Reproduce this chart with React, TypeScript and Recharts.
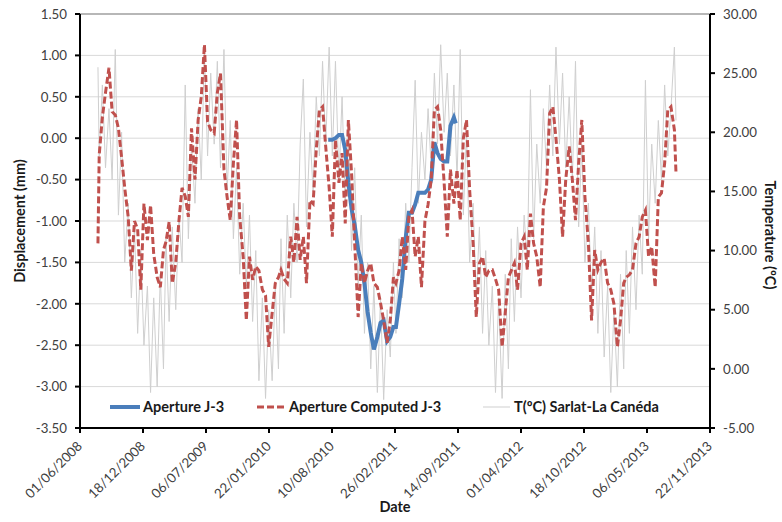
import React from "react";
import { ComposedChart, Line, XAxis, YAxis, CartesianGrid, ReferenceLine, Label } from "recharts";

// sampling dates shared by the computed aperture and the temperature record
const dates = [
  "2008-07-28",
  "2008-08-01", "2008-08-11", "2008-08-21", "2008-09-01", "2008-09-11", "2008-09-21",
  "2008-10-01", "2008-10-11", "2008-10-21", "2008-11-01", "2008-11-11", "2008-11-21",
  "2008-12-01", "2008-12-11", "2008-12-21",
  "2009-01-01", "2009-01-11", "2009-01-21", "2009-02-01", "2009-02-11", "2009-02-21",
  "2009-03-01", "2009-03-11", "2009-03-21", "2009-04-01", "2009-04-11", "2009-04-21",
  "2009-05-01", "2009-05-11", "2009-05-21", "2009-06-01", "2009-06-11", "2009-06-21",
  "2009-07-01", "2009-07-11", "2009-07-21", "2009-08-01", "2009-08-11", "2009-08-21",
  "2009-09-01", "2009-09-11", "2009-09-21", "2009-10-01", "2009-10-11", "2009-10-21",
  "2009-11-01", "2009-11-11", "2009-11-21", "2009-12-01", "2009-12-11", "2009-12-21",
  "2010-01-01", "2010-01-11", "2010-01-21", "2010-02-01", "2010-02-11", "2010-02-21",
  "2010-03-01", "2010-03-11", "2010-03-21", "2010-04-01", "2010-04-11", "2010-04-21",
  "2010-05-01", "2010-05-11", "2010-05-21", "2010-06-01", "2010-06-11", "2010-06-21",
  "2010-07-01", "2010-07-11", "2010-07-21", "2010-08-01", "2010-08-11", "2010-08-21",
  "2010-09-01", "2010-09-11", "2010-09-21", "2010-10-01", "2010-10-11", "2010-10-21",
  "2010-11-01", "2010-11-11", "2010-11-21", "2010-12-01", "2010-12-11", "2010-12-21",
  "2011-01-01", "2011-01-11", "2011-01-21", "2011-02-01", "2011-02-11", "2011-02-21",
  "2011-03-01", "2011-03-11", "2011-03-21", "2011-04-01", "2011-04-11", "2011-04-21",
  "2011-05-01", "2011-05-11", "2011-05-21", "2011-06-01", "2011-06-11", "2011-06-21",
  "2011-07-01", "2011-07-11", "2011-07-21", "2011-08-01", "2011-08-11", "2011-08-21",
  "2011-09-01", "2011-09-11", "2011-09-21", "2011-10-01", "2011-10-11", "2011-10-21",
  "2011-11-01", "2011-11-11", "2011-11-21", "2011-12-01", "2011-12-11", "2011-12-21",
  "2012-01-01", "2012-01-11", "2012-01-21", "2012-02-01", "2012-02-11", "2012-02-21",
  "2012-03-01", "2012-03-11", "2012-03-21", "2012-04-01", "2012-04-11", "2012-04-21",
  "2012-05-01", "2012-05-11", "2012-05-21", "2012-06-01", "2012-06-11", "2012-06-21",
  "2012-07-01", "2012-07-11", "2012-07-21", "2012-08-01", "2012-08-11", "2012-08-21",
  "2012-09-01", "2012-09-11", "2012-09-21", "2012-10-01", "2012-10-11", "2012-10-21",
  "2012-11-01", "2012-11-11", "2012-11-21", "2012-12-01", "2012-12-11", "2012-12-21",
  "2013-01-01", "2013-01-11", "2013-01-21", "2013-02-01", "2013-02-11", "2013-02-21",
  "2013-03-01", "2013-03-11", "2013-03-21", "2013-04-01", "2013-04-11", "2013-04-21",
  "2013-05-01", "2013-05-11", "2013-05-21", "2013-06-01", "2013-06-11", "2013-06-21",
  "2013-07-01", "2013-07-11", "2013-07-21", "2013-08-01", "2013-08-06",
];

// Aperture Computed J-3 (mm)
const computedJ3 = [
  -1.27,
  -0.2, 0.25, 0.55, 0.85, 0.32, 0.28,
  0.12, -0.23, -0.6, -0.95, -1.6, -1.0,
  -1.1, -1.83, -0.79,
  -1.23, -0.81, -1.4, -1.68, -1.8, -1.35,
  -1.25, -1.01, -1.75, -1.5, -1.0, -0.6,
  -0.7, -0.95, 0.12, -0.5, 0.22, 0.5,
  1.13, 0.2, 0.1, 0.06, 0.55, 0.78,
  -0.38, -0.71, -0.99, -0.3, 0.22, -0.95,
  -1.43, -2.2, -1.43, -1.71, -1.55, -1.6,
  -1.83, -1.9, -2.52, -2.11, -1.75, -1.68,
  -1.59, -1.7, -1.75, -1.19, -1.5, -0.95,
  -1.47, -1.19, -1.75, -0.75, -0.79, -0.14,
  0.34, 0.38, -0.1, -0.6, -1.19, -0.02,
  -0.54, -0.18, -1.03, 0.22, -0.42, -1.27,
  -2.16, -1.51, -1.75, -1.6, -1.51, -1.75,
  -1.8, -1.99, -2.2, -2.47, -2.2, -1.68,
  -1.75, -1.6, -1.19, -1.59, -0.95, -0.87,
  -1.43, -1.19, -1.8, -1.0, -0.8, -0.5,
  0.34, 0.38, 0.1, -0.54, -1.19, -0.38,
  -0.79, -0.38, -0.99, 0.0, 0.22, -0.63,
  -1.27, -2.16, -1.51, -1.43, -1.68, -1.6,
  -1.59, -1.7, -1.83, -2.52, -2.11, -1.68,
  -1.6, -1.51, -1.83, -1.27, -1.19, -1.59,
  -0.91, -1.27, -1.43, -1.8, -0.83, -0.6,
  0.3, 0.38, 0.0, -0.5, -1.19, -0.5,
  -0.1, -0.5, -0.99, -0.3, 0.22, -0.71,
  -1.27, -2.2, -1.35, -1.59, -1.5, -1.45,
  -1.75, -1.83, -2.0, -2.52, -2.2, -1.75,
  -1.68, -1.65, -1.59, -1.27, -1.19, -0.95,
  -0.87, -1.43, -1.31, -1.8, -0.71, -0.66,
  -0.3, 0.34, 0.38, 0.1, -0.42,
];

// T(ºC) Sarlat-La Canéda
const tempSarlat = [
  25.5,
  18, 24, 17, 22, 16, 27,
  13, 20, 9, 14, 6, 12,
  3, 10, 2,
  7, -2, 6, -1.5, 8, 0,
  11, 4, 12, 5, 13, 9,
  24, 11, 19, 14, 22, 16,
  27, 18, 25, 19, 26, 17,
  27, 15, 21, 11, 17, 8,
  14, 7, 13, 4, 10, -1,
  6, -2.5, 5, -1, 7, 0,
  11, 3, 13, 6, 14, 9,
  19, 24.5, 12, 20, 15, 23,
  18, 26, 19, 27.2, 18, 26,
  16, 23, 14, 21, 10, 17,
  7, 13, 3, 9, 0, 7,
  -2, 6, -2.6, 5, 1, 9,
  3, 11, 6, 14, 9, 17,
  24.4, 14, 20, 16, 22, 17,
  25, 19, 27.4, 20, 25, 18,
  24, 16, 27, 13, 20, 9,
  14, 6, 12, 3, 10, 2,
  7, -2, 6, -2.5, 8, 0,
  11, 4, 12, 6, 13, 9,
  23.6, 11, 19, 14, 22, 17,
  24, 18, 27.2, 19, 25, 17,
  23, 16, 26, 12, 19, 9,
  14, 6, 12, 3, 10, 1,
  7, -2, 5, -1.5, 8, 0,
  10, 3, 12, 5, 13, 8,
  24.4, 11, 19, 14, 21, 16,
  24, 18, 22, 27.2, 21,
];

// Aperture J-3 (mm), measured
const j3Dates = [
  "2010-07-29",
  "2010-08-01", "2010-08-11", "2010-08-21", "2010-09-01", "2010-09-11", "2010-09-21",
  "2010-10-01", "2010-10-11", "2010-10-21", "2010-11-01", "2010-11-11", "2010-11-21",
  "2010-12-01", "2010-12-11", "2010-12-21",
  "2011-01-01", "2011-01-11", "2011-01-21", "2011-02-01", "2011-02-11", "2011-02-21",
  "2011-03-01", "2011-03-11", "2011-03-21", "2011-04-01", "2011-04-11", "2011-04-21",
  "2011-05-01", "2011-05-11", "2011-05-21", "2011-06-01", "2011-06-11", "2011-06-21",
  "2011-07-01", "2011-07-11", "2011-07-21", "2011-08-01", "2011-08-11", "2011-08-21",
  "2011-09-01", "2011-09-07",
];
const j3Values = [
  -0.02,
  -0.02, -0.02, 0.0, 0.04, 0.04, -0.14,
  -0.54, -0.85, -1.05, -1.35, -1.5, -1.75,
  -2.1, -2.35, -2.55,
  -2.4, -2.23, -2.2, -2.45, -2.4, -2.28,
  -2.28, -2.0, -1.7, -1.2, -0.9, -0.9,
  -0.8, -0.66, -0.66, -0.66, -0.62, -0.5,
  -0.05, -0.18, -0.25, -0.28, -0.28, 0.15,
  0.25, 0.18,
];

const xTickDates = [
  "2008-06-01", "2008-12-18", "2009-07-06", "2010-01-22", "2010-08-10", "2011-02-26",
  "2011-09-14", "2012-04-01", "2012-10-18", "2013-05-06", "2013-11-22",
];
const displacementTicks = [-3.5, -3, -2.5, -2, -1.5, -1, -0.5, 0, 0.5, 1, 1.5];
const temperatureTicks = [-5, 0, 5, 10, 15, 20, 25, 30];

const FONT = "Lato, 'Carlito', Calibri, sans-serif";
const BLUE = "#4a7ebb";
const RED = "#c0504d";
const GREY = "#cfcfcf";

const toTime = (s: string) => Date.parse(s + "T00:00:00Z");
const pad = (n: number) => (n < 10 ? "0" + n : "" + n);
const formatDate = (t: number) => {
  const d = new Date(t);
  return `${pad(d.getUTCDate())}/${pad(d.getUTCMonth() + 1)}/${d.getUTCFullYear()}`;
};

type Row = { t: number; computed?: number | null; temp?: number | null; j3?: number | null };

function buildRows(): Row[] {
  const map = new Map<number, Row>();
  dates.forEach((s, i) => {
    const t = toTime(s);
    map.set(t, { t, computed: computedJ3[i], temp: tempSarlat[i], j3: null });
  });
  j3Dates.forEach((s, i) => {
    const t = toTime(s);
    const row = map.get(t) ?? { t, computed: null, temp: null };
    row.j3 = j3Values[i];
    map.set(t, row);
  });
  return Array.from(map.values()).sort((a, b) => a.t - b.t);
}

const rows = buildRows();
const xTicks = xTickDates.map(toTime);

function DateTick({ x, y, payload }: any) {
  const tx = x + 3;
  const ty = y + 14;
  return (
    <text
      x={tx}
      y={ty}
      textAnchor="end"
      fill="#404040"
      fontSize={13.3}
      fontFamily={FONT}
      transform={`rotate(-45 ${tx} ${ty})`}
    >
      {formatDate(payload.value)}
    </text>
  );
}

export default function App() {
  const tickStyle = { fill: "#404040", fontSize: 13.3, fontFamily: FONT };
  const axisStroke = { stroke: "#000", strokeWidth: 2 };

  return (
    <div style={{ position: "absolute", left: 0, top: 0, width: 782, height: 522, fontFamily: FONT }}>
      <ComposedChart width={782} height={522} data={rows} margin={{ top: 14, right: 0, bottom: 0, left: 0 }}>
        <CartesianGrid yAxisId="left" vertical={false} stroke="#d9d9d9" />
        <XAxis
          dataKey="t"
          type="number"
          domain={[xTicks[0], xTicks[xTicks.length - 1]]}
          ticks={xTicks}
          interval={0}
          height={94}
          tick={<DateTick />}
          tickSize={5}
          tickMargin={0}
          axisLine={axisStroke}
          tickLine={axisStroke}
        >
          <Label
            content={() => (
              <text x={395} y={512} textAnchor="middle" fontFamily={FONT} fontWeight={700} fontSize={14.5} fill="#1a1a1a">
                Date
              </text>
            )}
          />
        </XAxis>
        <YAxis
          yAxisId="left"
          domain={[-3.5, 1.5]}
          ticks={displacementTicks}
          interval={0}
          width={80}
          tickFormatter={(v: number) => v.toFixed(2)}
          tick={tickStyle}
          tickSize={5}
          tickMargin={8}
          axisLine={axisStroke}
          tickLine={axisStroke}
        >
          <Label
            content={() => (
              <text
                x={25}
                y={221}
                textAnchor="middle"
                fontFamily={FONT}
                fontWeight={700}
                fontSize={14.5}
                fill="#1a1a1a"
                transform="rotate(-90 25 221)"
              >
                Displacement (mm)
              </text>
            )}
          />
        </YAxis>
        <YAxis
          yAxisId="right"
          orientation="right"
          domain={[-5, 30]}
          ticks={temperatureTicks}
          interval={0}
          width={72}
          tickFormatter={(v: number) => v.toFixed(2)}
          tick={{ ...tickStyle, textAnchor: "start" }}
          tickSize={5}
          tickMargin={8}
          axisLine={axisStroke}
          tickLine={axisStroke}
        >
          <Label
            content={() => (
              <text
                x={765}
                y={235}
                textAnchor="middle"
                fontFamily={FONT}
                fontWeight={700}
                fontSize={14.5}
                fill="#1a1a1a"
                transform="rotate(90 765 235)"
              >
                Temperature (ºC)
              </text>
            )}
          />
        </YAxis>
        <ReferenceLine yAxisId="left" y={1.5} stroke="#a6a6a6" strokeWidth={1.5} />
        <Line
          yAxisId="right"
          dataKey="temp"
          stroke={GREY}
          strokeWidth={1}
          dot={false}
          activeDot={false}
          connectNulls
          isAnimationActive={false}
        />
        <Line
          yAxisId="left"
          dataKey="j3"
          stroke={BLUE}
          strokeWidth={4}
          dot={false}
          activeDot={false}
          isAnimationActive={false}
        />
        <Line
          yAxisId="left"
          dataKey="computed"
          stroke={RED}
          strokeWidth={3}
          strokeDasharray="7 3"
          dot={false}
          activeDot={false}
          connectNulls
          isAnimationActive={false}
        />
      </ComposedChart>

      {/* legend drawn inside the plot area, bottom */}
      <svg width={782} height={522} style={{ position: "absolute", left: 0, top: 0, pointerEvents: "none" }}>
        <g fontFamily={FONT} fontWeight={700} fontSize={14.5} fill="#1a1a1a">
          <line x1={110} x2={140} y1={407} y2={407} stroke={BLUE} strokeWidth={4} />
          <text x={143} y={412}>Aperture J-3</text>
          <line x1={257} x2={286} y1={407} y2={407} stroke={RED} strokeWidth={3} strokeDasharray="7 3" />
          <text x={289} y={412}>Aperture Computed J-3</text>
          <line x1={483} x2={510} y1={407} y2={407} stroke={GREY} strokeWidth={1} />
          <text x={514} y={412}>T(ºC) Sarlat-La Canéda</text>
        </g>
      </svg>
    </div>
  );
}
